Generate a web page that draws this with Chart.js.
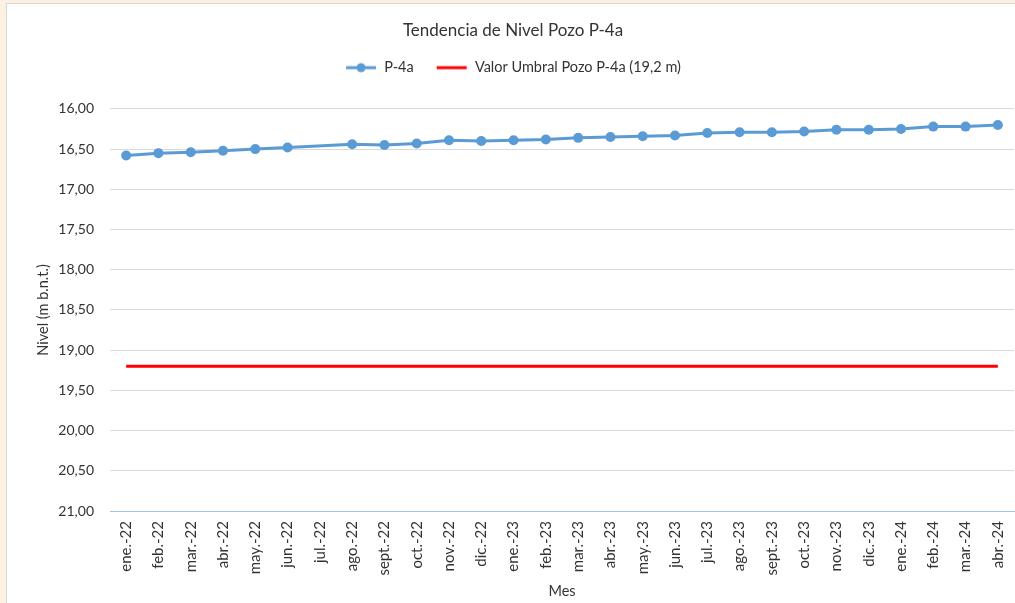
<!DOCTYPE html>
<html>
<head>
<meta charset="utf-8">
<title>Tendencia de Nivel Pozo P-4a</title>
<script src="https://cdn.jsdelivr.net/npm/chart.js@4/dist/chart.umd.min.js"></script>
<style>
  html, body { margin: 0; padding: 0; background: #fdf1e2; overflow: hidden; }
  #wrap {
    position: absolute; left: 6px; top: 3px;
    width: 1013px; height: 600px;
    background: #fff;
    border-left: 1px solid #d6d6d6; border-top: 1px solid #d6d6d6;
  }
  #chart { display: block; }
</style>
</head>
<body>
<div id="wrap"><canvas id="chart" width="1012" height="599"></canvas></div>
<script>
// Pozo P-4a water level, monthly readings (m b.n.t.)
const months = [
  'ene.-22', 'feb.-22', 'mar.-22', 'abr.-22', 'may.-22', 'jun.-22', 'jul.-22',
  'ago.-22', 'sept.-22', 'oct.-22', 'nov.-22', 'dic.-22',
  'ene.-23', 'feb.-23', 'mar.-23', 'abr.-23', 'may.-23', 'jun.-23', 'jul.-23',
  'ago.-23', 'sept.-23', 'oct.-23', 'nov.-23', 'dic.-23',
  'ene.-24', 'feb.-24', 'mar.-24', 'abr.-24'
];
// jul.-22 has no reading
const nivelP4a = [
  16.58, 16.55, 16.54, 16.52, 16.50, 16.48, null,
  16.44, 16.45, 16.43, 16.39, 16.40,
  16.39, 16.38, 16.36, 16.35, 16.34, 16.33, 16.30,
  16.29, 16.29, 16.28, 16.26, 16.26,
  16.25, 16.22, 16.22, 16.20
];
const umbral = months.map(() => 19.2);
const yMin = 16, yMax = 21, yStep = 0.5;

const FONT = 'Lato, "Open Sans", sans-serif';
const TXT = '#333333';
const BLUE = '#5b9bd5';
const RED = '#ff0000';

// little legend markers: line with dot, plain line
function legendIcon(color, dot) {
  const c = document.createElement('canvas');
  c.width = 32; c.height = 12;
  const g = c.getContext('2d');
  g.fillStyle = color;
  g.fillRect(1, 4.5, 30, 3);
  if (dot) {
    g.beginPath();
    g.arc(16, 6, 4.5, 0, Math.PI * 2);
    g.fill();
  }
  return c;
}
const icons = [legendIcon(BLUE, true), legendIcon(RED, false)];

new Chart(document.getElementById('chart'), {
  type: 'line',
  data: {
    labels: months,
    datasets: [
      {
        label: 'P-4a',
        data: nivelP4a,
        borderColor: BLUE,
        backgroundColor: BLUE,
        borderWidth: 3,
        pointRadius: 5,
        pointBorderWidth: 0,
        spanGaps: true
      },
      {
        label: 'Valor Umbral Pozo P-4a (19,2 m)',
        data: umbral,
        borderColor: RED,
        backgroundColor: RED,
        borderWidth: 3,
        pointRadius: 0
      }
    ]
  },
  options: {
    responsive: false,
    animation: false,
    events: [],
    layout: { padding: { left: 0, right: 0, top: 0, bottom: 3 } },
    plugins: {
      title: {
        display: true,
        text: 'Tendencia de Nivel Pozo P-4a',
        color: TXT,
        font: { family: FONT, size: 17, weight: 'normal' },
        padding: { top: 16, bottom: -2 }
      },
      legend: {
        labels: {
          color: TXT,
          font: { family: FONT, size: 14.5 },
          usePointStyle: true,
          pointStyleWidth: 32,
          padding: 22,
          generateLabels(chart) {
            const items = Chart.defaults.plugins.legend.labels.generateLabels(chart);
            items.forEach((it, i) => { it.pointStyle = icons[i]; });
            return items;
          }
        }
      },
      tooltip: { enabled: false }
    },
    scales: {
      x: {
        offset: true,
        grid: { display: false, drawTicks: false },
        border: { color: '#9dc3e6', width: 1 },
        ticks: {
          color: TXT,
          font: { family: FONT, size: 15 },
          minRotation: 90,
          maxRotation: 90,
          autoSkip: false,
          padding: 10
        },
        title: {
          display: true,
          text: 'Mes',
          color: TXT,
          font: { family: FONT, size: 14.5 },
          padding: { top: 0, bottom: 0 }
        },
        afterFit(scale) {
          scale.height = 89;
          scale.paddingLeft = 0;
          scale.paddingRight = 0;
        }
      },
      // empty spacer axis: gap between the legend and the plot
      xGap: {
        type: 'category',
        position: 'top',
        offset: true,
        grid: { display: false, drawTicks: false },
        border: { display: false },
        ticks: { display: false },
        afterFit(scale) {
          scale.height = 24;
          scale.paddingLeft = 0;
          scale.paddingRight = 0;
        }
      },
      y: {
        reverse: true,
        min: yMin,
        max: yMax,
        grid: {
          drawTicks: false,
          color: ctx => ctx.tick && ctx.tick.value === yMax ? '#9dc3e6' : '#d9d9d9'
        },
        border: { display: false },
        ticks: {
          stepSize: yStep,
          color: TXT,
          font: { family: FONT, size: 14 },
          padding: 16,
          callback: v => v.toFixed(2).replace('.', ',')
        },
        title: {
          display: true,
          text: 'Nivel (m b.n.t.)',
          color: TXT,
          font: { family: FONT, size: 14.5 },
          padding: { top: 28, bottom: 0 }
        },
        afterFit(scale) {
          scale.width = 103;
          scale.paddingTop = 0;
          scale.paddingBottom = 0;
        }
      }
    }
  }
});
</script>
</body>
</html>
